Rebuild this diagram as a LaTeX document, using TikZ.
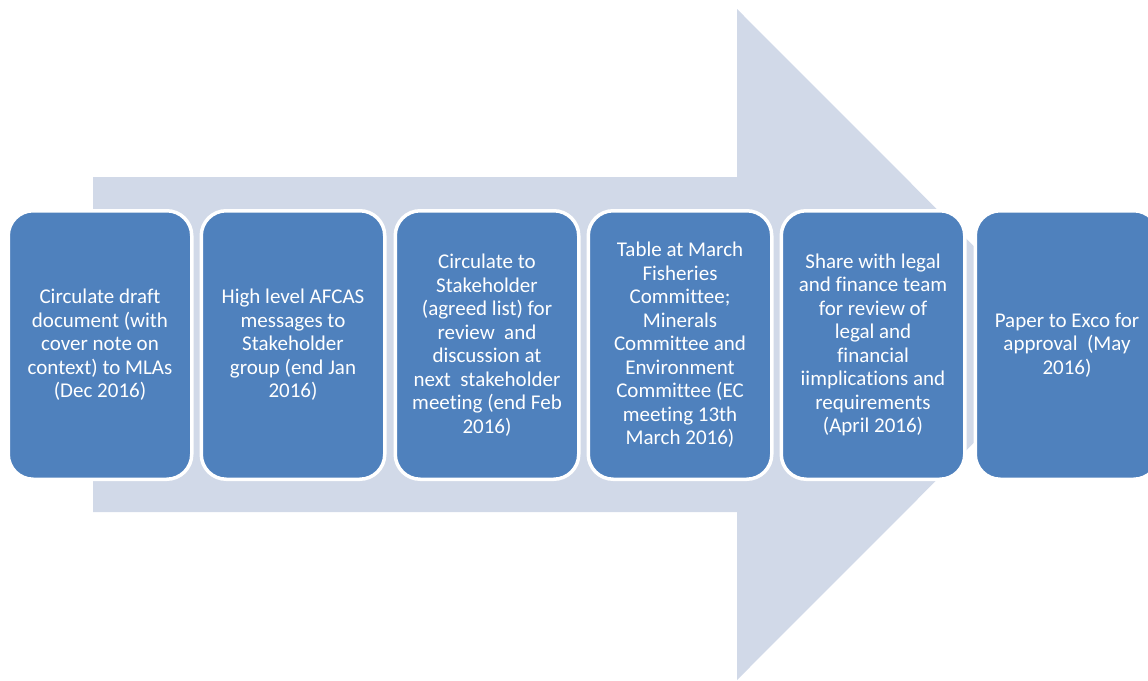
\documentclass[tikz,border=0pt]{standalone}
\usepackage{fontspec}
\setmainfont{Carlito}[Ligatures=NoCommon]
\definecolor{boxblue}{HTML}{4F81BD}
\definecolor{arrowfill}{HTML}{D1D9E8}
\begin{document}
\begin{tikzpicture}[x=1pt,y=-1pt,
  stage/.style={draw=white, line width=3.5pt, fill=boxblue, rounded corners=25pt,
    minimum width=183.5pt, minimum height=268.5pt, align=center, text=white,
    font=\fontsize{21}{23.5}\selectfont, inner sep=0pt}]
\useasboundingbox (0,0) rectangle (1148,680);
\clip (0,0) rectangle (1148,680);
\fill[arrowfill] (93,177) -- (737,177) -- (737,9) -- (1072,344.5) -- (737,680) -- (737,512) -- (93,512) -- cycle;
\node[stage] (s1) at (100,345) {Circulate draft\\document (with\\cover note on\\context) to MLAs\\(Dec 2016)};
\node[stage] (s2) at (293,345) {High level AFCAS\\messages to\\Stakeholder\\group (end Jan\\2016)};
\node[stage] (s3) at (487,345) {Circulate to\\Stakeholder\\(agreed list) for\\review\ \ and\\discussion at\\next\ \ stakeholder\\meeting (end Feb\\2016)};
\node[stage] (s4) at (680,345) {Table at March\\Fisheries\\Committee;\\Minerals\\Committee and\\Environment\\Committee (EC\\meeting 13th\\March 2016)};
\node[stage] (s5) at (873,345) {Share with legal\\and finance team\\for review of\\legal and\\financial\\iimplications and\\requirements\\(April 2016)};
\node[stage] (s6) at (1067,345) {Paper to Exco for\\approval\ \ (May\\2016)};
\end{tikzpicture}
\end{document}
